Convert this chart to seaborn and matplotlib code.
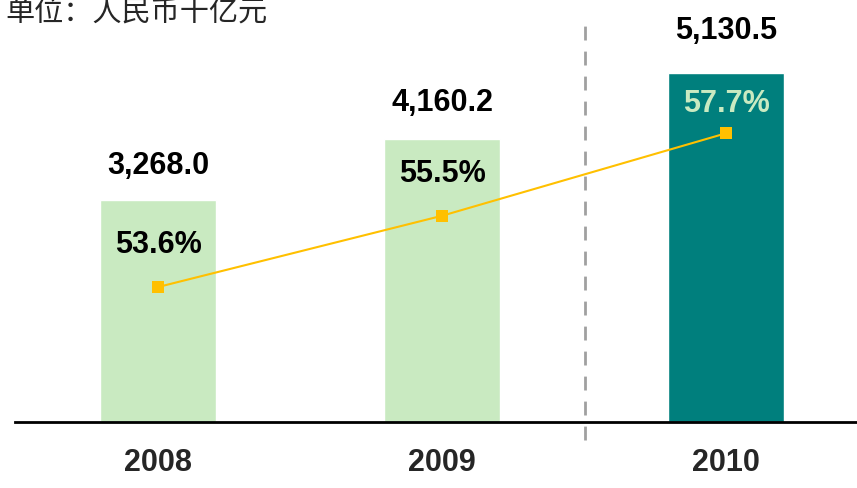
import matplotlib
matplotlib.use("Agg")
import matplotlib.pyplot as plt
import seaborn as sns
import numpy as np

# Data
years = ["2008", "2009", "2010"]
amounts = [3268.0, 4160.2, 5130.5]
amount_labels = ["3,268.0", "4,160.2", "5,130.5"]
shares = [53.6, 55.5, 57.7]
share_labels = ["53.6%", "55.5%", "57.7%"]
unit_text = "单位：人民币十亿元"

bar_colors = ["#C9EAC1", "#C9EAC1", "#007F7D"]
share_text_colors = ["#000000", "#000000", "#C9EAC1"]
line_color = "#FFC000"

sns.set_theme(style="white")
plt.rcParams["font.family"] = ["Liberation Sans", "DejaVu Sans"]

fig = plt.figure(figsize=(8.57, 4.88), dpi=100)
W, H = 857, 488
ax_left, ax_right, ax_top, ax_bottom = 15, 857, 0, 422
ax = fig.add_axes([ax_left / W, (H - ax_bottom) / H,
                   (ax_right - ax_left) / W, (ax_bottom - ax_top) / H])

sns.barplot(x=years, y=amounts, hue=years, palette=bar_colors,
            width=0.41, legend=False, saturation=1, ax=ax)
ax.set_xlim(-0.504, 2.461)
ax.set_ylim(0, 6203)

# Percentage line on a secondary axis
ax2 = ax.twinx()
pos = np.arange(len(years))
sns.lineplot(x=pos, y=shares, ax=ax2, color=line_color, linewidth=1.5,
             marker="s", markersize=8, markeredgewidth=0,
             markerfacecolor=line_color)
ax2.set_ylim(50, 50 + 422 / 37.5)
ax2.set_xlim(-0.504, 2.461)

for a in (ax, ax2):
    a.set_yticks([])
    a.set_ylabel("")
    for s in ("top", "right", "left"):
        a.spines[s].set_visible(False)
ax2.spines["bottom"].set_visible(False)
ax.spines["bottom"].set_color("black")
ax.spines["bottom"].set_linewidth(2)
ax.patch.set_alpha(0)

# Amount labels above bars
amount_offsets = [24, 26, 30]
for i, (v, lab) in enumerate(zip(amounts, amount_labels)):
    ax.annotate(lab, (i, v), xytext=(0, amount_offsets[i]),
                textcoords="offset points", ha="center", va="center",
                fontsize=22, fontweight="bold", color="black")

# Share labels above markers
share_offsets = [30, 30, 21]
for i, (v, lab) in enumerate(zip(shares, share_labels)):
    ax2.annotate(lab, (i, v), xytext=(0, share_offsets[i]),
                 textcoords="offset points", ha="center", va="center",
                 fontsize=22, fontweight="bold", color=share_text_colors[i])

# Dashed separator before the latest year
ax.axvline(1.504, ymin=-0.043, ymax=0.953, clip_on=False,
           color="#A0A0A0", linewidth=2, dashes=(5, 4))

# Category labels
ax.set_xticks(pos)
ax.set_xticklabels(years)
ax.tick_params(axis="x", length=0, pad=19)
for t in ax.get_xticklabels():
    t.set_family(["Liberation Sans", "DejaVu Sans"])
    t.set_fontweight("bold")
    t.set_fontsize(22)

fig.text(5 / W, 1 - 14 / H, unit_text, ha="left", va="center",
         fontsize=21, family=["Noto Sans CJK SC", "DejaVu Sans"])

fig.savefig("out.png", dpi=100)
